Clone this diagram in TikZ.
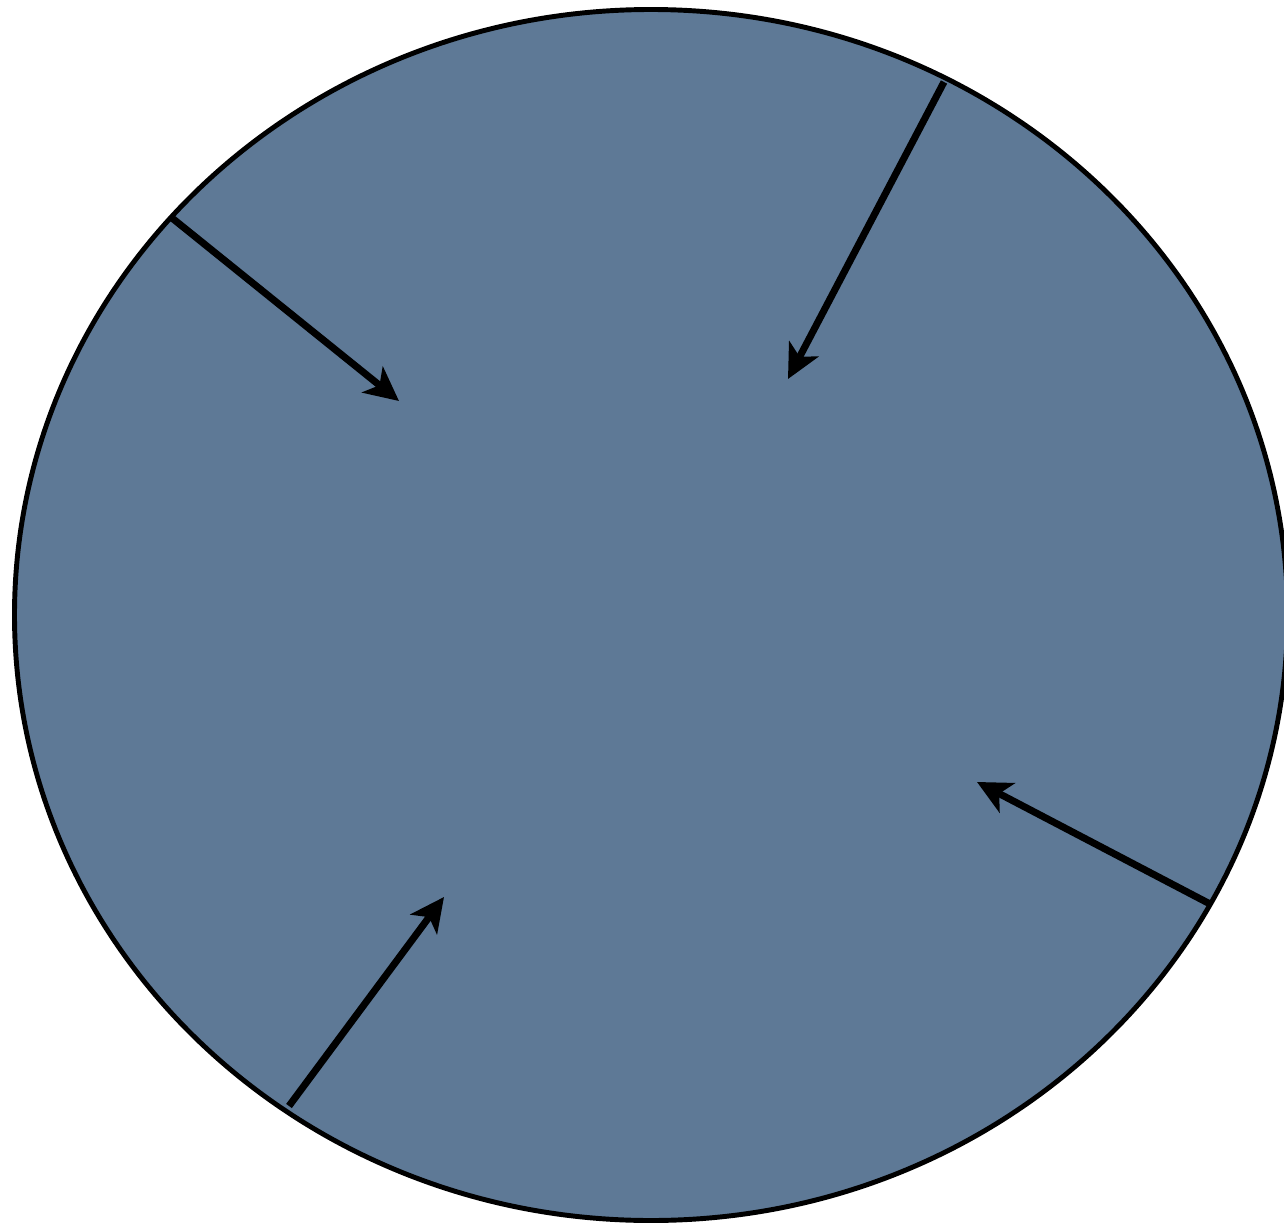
\documentclass[tikz,border=0pt]{standalone}
\usetikzlibrary{arrows.meta}
\definecolor{discfill}{RGB}{94,121,150}
\begin{document}
\begin{tikzpicture}
% Disc with inward arrows, coordinates in reference pixels
\def\pxsz{0.01cm}
\providecommand{\discLineWidth}{1.4pt}
\providecommand{\arrowLineWidth}{2pt}
\begin{scope}[x=\pxsz, y=-\pxsz, line cap=round, line join=round]
  % Page frame
  \useasboundingbox (0,0) rectangle (1284,1227);
  % Disc, cut at the right page edge
  \begin{scope}
    \clip (0,0) rectangle (1284,1227);
    \path[fill=discfill, draw=black, line width=\discLineWidth] (651,615) ellipse [x radius=636.5, y radius=605.5];
  \end{scope}
  % Arrow ends
  \coordinate (upleftfrom) at (172,218);
  \coordinate (uplefttip) at (399,401);
  \coordinate (uprightfrom) at (944,82);
  \coordinate (uprighttip) at (788,379);
  \coordinate (lowrightfrom) at (1212,905);
  \coordinate (lowrighttip) at (977,782);
  \coordinate (lowleftfrom) at (289,1106);
  \coordinate (lowlefttip) at (444,897);
  % Arrows
  \begin{scope}[draw=black, line width=\arrowLineWidth, line cap=butt, -{Stealth[length=0.34cm, width=0.33cm, inset=0.09cm]}]
    \draw (upleftfrom) -- (uplefttip);
    \draw (uprightfrom) -- (uprighttip);
    \draw (lowrightfrom) -- (lowrighttip);
    \draw (lowleftfrom) -- (lowlefttip);
  \end{scope}
\end{scope}
\end{tikzpicture}
\end{document}
